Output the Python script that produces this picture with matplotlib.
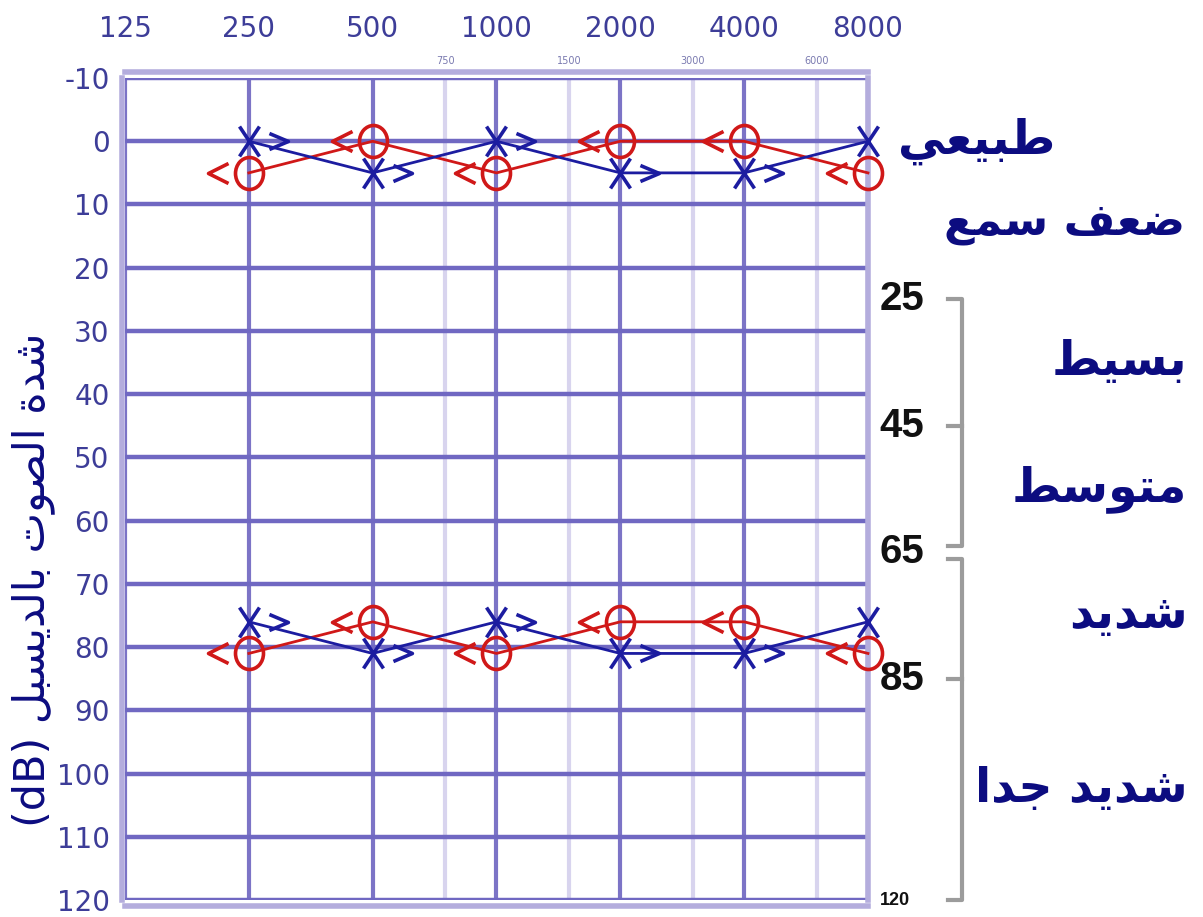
import matplotlib
matplotlib.use('Agg')
import matplotlib.pyplot as plt
from matplotlib.path import Path
from matplotlib.transforms import Affine2D, blended_transform_factory

# audiogram values (dB HL) at each test frequency
freqs = [250, 500, 1000, 2000, 4000, 8000]
normal_right = [5, 0, 5, 0, 0, 5]        # red O
normal_left = [0, 5, 0, 5, 5, 0]         # blue X
severe_right = [81, 76, 81, 76, 76, 81]
severe_left = [76, 81, 76, 81, 81, 76]

top_ticks = [125, 250, 500, 1000, 2000, 4000, 8000]
mid_ticks = [750, 1500, 3000, 6000]
db_ticks = list(range(-10, 121, 10))

# hearing loss grades on the right
scale_marks = [25, 45, 65, 85, 120]
grade_names = ['بسيط', 'متوسط', 'شديد', 'شديد جدا']
normal_name = 'طبيعي'
loss_name = 'ضعف سمع'
ylabel_text = 'شدة الصوت بالديسبل (dB)'

# matplotlib has no arabic shaping, so pick the joined letter forms by hand
FORMS = {  # isolated, final, initial, medial
    'ا': (0xFE8D, 0xFE8E, None, None),
    'ب': (0xFE8F, 0xFE90, 0xFE91, 0xFE92),
    'ة': (0xFE93, 0xFE94, None, None),
    'ت': (0xFE95, 0xFE96, 0xFE97, 0xFE98),
    'ج': (0xFE9D, 0xFE9E, 0xFE9F, 0xFEA0),
    'د': (0xFEA9, 0xFEAA, None, None),
    'س': (0xFEB1, 0xFEB2, 0xFEB3, 0xFEB4),
    'ش': (0xFEB5, 0xFEB6, 0xFEB7, 0xFEB8),
    'ص': (0xFEB9, 0xFEBA, 0xFEBB, 0xFEBC),
    'ض': (0xFEBD, 0xFEBE, 0xFEBF, 0xFEC0),
    'ط': (0xFEC1, 0xFEC2, 0xFEC3, 0xFEC4),
    'ع': (0xFEC9, 0xFECA, 0xFECB, 0xFECC),
    'ف': (0xFED1, 0xFED2, 0xFED3, 0xFED4),
    'ل': (0xFEDD, 0xFEDE, 0xFEDF, 0xFEE0),
    'م': (0xFEE1, 0xFEE2, 0xFEE3, 0xFEE4),
    'و': (0xFEED, 0xFEEE, None, None),
    'ي': (0xFEF1, 0xFEF2, 0xFEF3, 0xFEF4),
}


def shape_word(word):
    if not any(ch in FORMS for ch in word):
        return word
    out = []
    for i, ch in enumerate(word):
        if ch not in FORMS:
            out.append(ch)
            continue
        prev = word[i - 1] if i > 0 else ''
        nxt = word[i + 1] if i + 1 < len(word) else ''
        iso, fin, ini, med = FORMS[ch]
        join_prev = prev in FORMS and FORMS[prev][2] is not None
        join_next = nxt in FORMS and ini is not None
        if join_prev and join_next:
            code = med
        elif join_prev:
            code = fin
        elif join_next:
            code = ini
        else:
            code = iso
        out.append(chr(code))
    return ''.join(reversed(out))


def arabic(text):
    return ' '.join(shape_word(w) for w in reversed(text.split(' ')))


def ear_marker(kind, with_arrow=True):
    # symbol on the point plus the little arrow beside it
    if kind == 'O':
        sym = Path.unit_circle().transformed(Affine2D().scale(14, 16))
        arrow = Path([(-21, 10), (-41, 0), (-21, -10)],
                     [Path.MOVETO, Path.LINETO, Path.LINETO])
    else:
        sym = Path([(-10, -15), (10, 15), (-10, 15), (10, -15)],
                   [Path.MOVETO, Path.LINETO, Path.MOVETO, Path.LINETO])
        arrow = Path([(20, 8), (39, 0), (20, -8)],
                     [Path.MOVETO, Path.LINETO, Path.LINETO])
    if not with_arrow:
        return sym
    return Path.make_compound_path(sym, arrow)


red = '#d01818'
blue = '#1c1ca0'
navy = '#0c0c80'
tick_col = '#3d3d98'

fig = plt.figure(figsize=(12.03, 9.17), dpi=100)
ax = fig.add_axes([0.1039, 0.0185, 0.6176, 0.8964])

ax.set_xscale('log', base=2)
ax.set_xlim(125, 8000)
ax.set_ylim(120, -10)

for vals, col, kind in [(normal_right, red, 'O'), (normal_left, blue, 'X'),
                        (severe_right, red, 'O'), (severe_left, blue, 'X')]:
    if kind == 'O':
        ax.plot(freqs, vals, color=col, lw=2.0, marker=ear_marker(kind), ms=59,
                mfc='none', mec=col, mew=2.6, clip_on=False, zorder=4)
    else:
        # the arrow of the last X falls outside the chart, so it is left off
        ax.plot(freqs, vals, color=col, lw=2.0, marker=ear_marker(kind), ms=56,
                markevery=slice(0, -1), mfc='none', mec=col, mew=2.6,
                clip_on=False, zorder=4)
        ax.plot(freqs[-1:], vals[-1:], ls='none', marker=ear_marker(kind, False), ms=21.6,
                mfc='none', mec=col, mew=2.6, clip_on=False, zorder=4)

# grid
ax.set_yticks(db_ticks)
ax.set_yticklabels([str(v) for v in db_ticks])
ax.set_xticks(top_ticks)
ax.set_xticklabels([str(v) for v in top_ticks])
ax.set_xticks(mid_ticks, minor=True)
ax.set_xticklabels([str(v) for v in mid_ticks], minor=True)
ax.xaxis.tick_top()
ax.grid(True, axis='y', which='major', color='#7068c2', lw=3.2)
ax.grid(True, axis='x', which='major', color='#7c74c6', lw=3.0)
ax.grid(True, axis='x', which='minor', color='#d8d4ee', lw=3.0)
ax.set_axisbelow(True)

ax.tick_params(axis='both', which='both', length=0)
ax.tick_params(axis='x', which='major', pad=21, labelsize=20, labelcolor=tick_col)
ax.tick_params(axis='x', which='minor', pad=5, labelsize=7, labelcolor='#7a7ab0')
ax.tick_params(axis='y', pad=9, labelsize=20, labelcolor=tick_col)
for lab in ax.get_xticklabels() + ax.get_yticklabels():
    lab.set_family('Liberation Sans')

for side in ['left', 'top', 'bottom', 'right']:
    ax.spines[side].set_color('#b4addd')
    ax.spines[side].set_linewidth(4)
ax.spines['left'].set_position(('outward', 2))
ax.spines['top'].set_position(('outward', 4))
ax.spines['bottom'].set_position(('outward', 4))

ax.set_ylabel(arabic(ylabel_text), fontsize=31, color=navy, family='DejaVu Sans')
ax.yaxis.set_label_coords(-0.094, 0.39)

# right hand grading scale
tr = blended_transform_factory(ax.transAxes, ax.transData)
bx0, bx1 = 1.108, 1.127
for v in scale_marks:
    size = 13 if v == scale_marks[-1] else 29
    ax.text(1.016, v, str(v), transform=tr, ha='left', va='center',
            fontsize=size, fontweight='bold', family='Liberation Sans', color='#111111')
for a, mid, b in [(scale_marks[0], scale_marks[1], scale_marks[2]),
                  (scale_marks[2], scale_marks[3], scale_marks[4])]:
    top = a if a == scale_marks[0] else a + 1
    bot = b if b == scale_marks[-1] else b - 1
    ax.plot([bx0, bx1, bx1, bx0], [top, top, bot, bot], transform=tr,
            color='#9c9c9c', lw=3, clip_on=False)
    ax.plot([bx0, bx1], [mid, mid], transform=tr, color='#9c9c9c', lw=3, clip_on=False)

for i, name in enumerate(grade_names):
    ymid = (scale_marks[i] + scale_marks[i + 1]) / 2
    ax.text(1.43, ymid, arabic(name), transform=tr, ha='right', va='center',
            fontsize=34, fontweight='bold', family='DejaVu Sans', color=navy)

ax.text(1.04, normal_right[1], arabic(normal_name), transform=tr, ha='left', va='center',
        fontsize=34, fontweight='bold', family='DejaVu Sans', color=navy)
ax.text(1.427, 13, arabic(loss_name), transform=tr, ha='right', va='center',
        fontsize=32, fontweight='bold', family='DejaVu Sans', color=navy)

fig.savefig('out.png', dpi=100, facecolor='white')
